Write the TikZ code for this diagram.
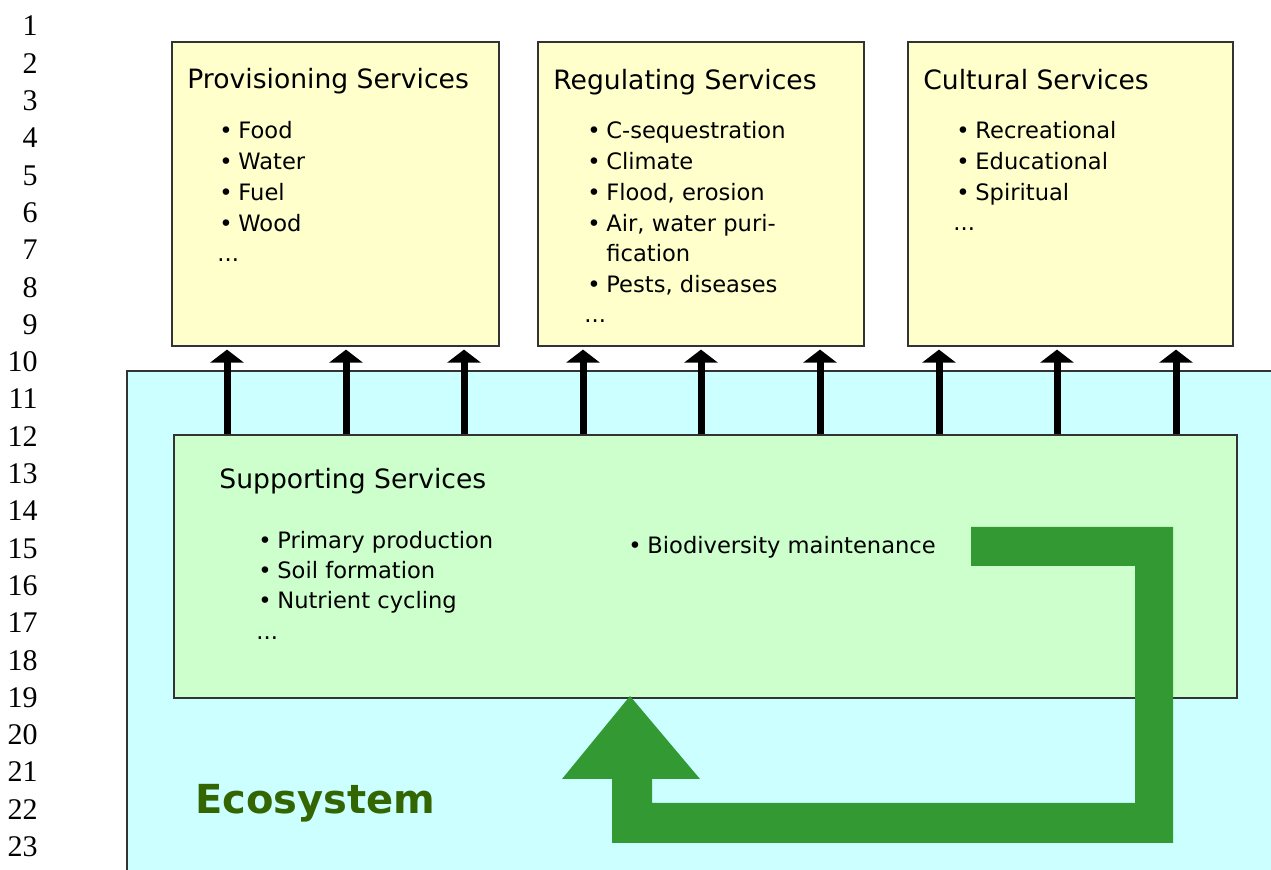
\documentclass[tikz,border=0pt]{standalone}
\usepackage{fontspec}
\setmainfont{DejaVu Sans}
\newfontfamily\numfont{Liberation Serif}
\usetikzlibrary{arrows.meta}

\definecolor{svcyellow}{HTML}{FFFFCC}
\definecolor{suppgreen}{HTML}{CCFFCC}
\definecolor{ecoblue}{HTML}{CCFFFF}
\definecolor{loopgreen}{HTML}{339933}
\definecolor{ecotext}{HTML}{336600}

\tikzset{
  box/.style={draw=black!80, line width=0.8pt, anchor=north west, inner sep=0pt},
  svcbox/.style={box, fill=svcyellow, minimum height=152pt},
  title/.style={anchor=base west, inner sep=0pt, font=\fontsize{13.3}{16}\selectfont},
  item/.style={anchor=base west, inner sep=0pt, font=\fontsize{11.3}{13.5}\selectfont},
  uparrow/.style={line width=3.5pt, -{Triangle[width=16.5pt,length=6.5pt]}, shorten >=1.5pt},
  lineno/.style={anchor=base east, inner sep=0pt, font=\numfont\fontsize{15}{18}\selectfont}
}
\newcommand\bul[1]{\makebox[9.5pt][l]{\textbullet}#1}

\begin{document}
\begin{tikzpicture}[x=0.5pt, y=-0.5pt]
\useasboundingbox (0,0) rectangle (1271,870);

% line numbers down the margin
\foreach \n in {1,...,23}
  \node[lineno] (ln\n) at (38, {36+37.3*(\n-1)}) {\n};

% ecosystem background, open to the right and bottom
\fill[ecoblue] (127,371) rectangle (1271,870);
\draw[black!80, line width=0.8pt] (127,870) -- (127,371) -- (1271,371);

% service boxes
\node[svcbox, minimum width=163.5pt] (prov) at (171,41) {};
\node[svcbox, minimum width=163pt] (reg) at (537,41) {};
\node[svcbox, minimum width=162.5pt] (cult) at (907,41) {};
\node[box, fill=suppgreen, minimum width=531.5pt, minimum height=131.5pt] (supp) at (173,434) {};

\node[title] (prov-t) at (187,89) {Provisioning Services};
\node[title] (reg-t) at (553,90) {Regulating Services};
\node[title] (cult-t) at (923,90) {Cultural Services};
\node[title] (supp-t) at (219,489) {Supporting Services};

% item lists
\foreach \t [count=\i] in {Food, Water, Fuel, Wood}
  \node[item] (prov-\i) at (219, {139+30.7*(\i-1)}) {\bul{\t}};
\node[item] (prov-dots) at (217,262) {...};

\foreach \t [count=\i] in {C-sequestration, Climate, {Flood, erosion}, {Air, water puri-}}
  \node[item] (reg-\i) at (587, {139+30.7*(\i-1)}) {\bul{\t}};
\node[item] (reg-5) at (587,262) {\makebox[9.5pt]{}fication};
\node[item] (reg-6) at (587,292.5) {\bul{Pests, diseases}};
\node[item] (reg-dots) at (584,323) {...};

\foreach \t [count=\i] in {Recreational, Educational, Spiritual}
  \node[item] (cult-\i) at (956, {139+30.7*(\i-1)}) {\bul{\t}};
\node[item] (cult-dots) at (953,231) {...};

\foreach \t [count=\i] in {Primary production, Soil formation, Nutrient cycling}
  \node[item] (supp-\i) at (258, {549+30*(\i-1)}) {\bul{\t}};
\node[item] (supp-dots) at (256,640) {...};
\node[item] (supp-bio) at (628,554) {\bul{Biodiversity maintenance}};

% services flowing up from the supporting box
\foreach \b/\x in {prov/227, prov/346, prov/464, reg/583, reg/701, reg/820,
                   cult/939, cult/1057, cult/1176}
  \draw[uparrow] (supp.north -| \x,0) -- (\b.south -| \x,0);

% feedback loop
\fill[loopgreen] (971,527) -- (1173,527) -- (1173,843) -- (612,843) -- (612,779)
  -- (562,779) -- (630,696) -- (700,779) -- (652,779) -- (652,803)
  -- (1135,803) -- (1135,566) -- (971,566) -- cycle;

\node[anchor=base west, inner sep=0pt, text=ecotext,
  font=\bfseries\fontsize{20}{24}\selectfont] (eco) at (195,814) {Ecosystem};
\end{tikzpicture}
\end{document}
